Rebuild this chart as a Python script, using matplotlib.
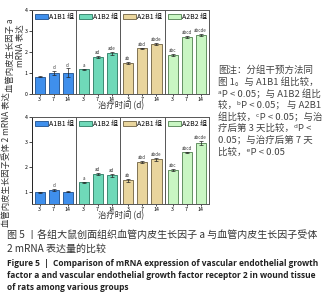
import matplotlib
matplotlib.use("Agg")
import matplotlib.pyplot as plt
import numpy as np
from matplotlib.patches import Patch

plt.rcParams['font.family'] = ['Noto Sans CJK SC', 'DejaVu Sans']

# data
groups = ["A1B1 组", "A1B2 组", "A2B1 组", "A2B2 组"]
days = ["3", "7", "14"]

vegfa = [[0.82, 1.00, 1.02], [1.17, 1.75, 1.93], [1.47, 2.17, 2.37], [1.85, 2.70, 2.80]]
vegfa_err = [[0.02, 0.08, 0.20], [0.03, 0.05, 0.07], [0.04, 0.03, 0.06], [0.04, 0.05, 0.06]]
vegfa_sig = [["", "d", "d"], ["a", "ad", "ade"], ["ab", "abd", "abde"], ["abc", "abcd", "abcde"]]

vegfr2 = [[0.97, 1.05, 1.00], [1.37, 1.70, 1.65], [1.45, 2.20, 2.30], [1.85, 2.58, 2.95]]
vegfr2_err = [[0.02, 0.04, 0.02], [0.03, 0.04, 0.06], [0.05, 0.04, 0.07], [0.04, 0.03, 0.08]]
vegfr2_sig = [["", "d", ""], ["a", "ad", "ad"], ["ab", "abd", "abde"], ["abc", "abcd", "abcde"]]

colors = ["#3f8fec", "#6fd9b9", "#e9d59d", "#c9f6c3"]
edges = ["#1d4f8c", "#2b7a62", "#6e6040", "#4f7f4f"]

W, H = 332, 300
fig = plt.figure(figsize=(W / 100, H / 100), dpi=100)


def px(x0, y0, x1, y1):
    return [x0 / W, 1 - y1 / H, (x1 - x0) / W, (y1 - y0) / H]


def panel(top, bottom, ymin, vals, errs, sigs):
    edges_x = [32, 76, 120, 165, 209]
    x = np.arange(3)
    for g in range(4):
        ax = fig.add_axes(px(edges_x[g], top, edges_x[g + 1], bottom))
        ax.bar(x, vals[g], width=0.72, color=colors[g], edgecolor=edges[g], linewidth=0.6)
        ax.errorbar(x, vals[g], yerr=errs[g], fmt="none", ecolor="#222222",
                    elinewidth=0.5, capsize=1.5, capthick=0.5)
        for i in range(3):
            if sigs[g][i]:
                ax.text(x[i], vals[g][i] + errs[g][i] + 0.04, sigs[g][i],
                        ha="center", va="bottom", fontsize=3.2, color="#333333")
        ax.set_xlim(-0.55, 2.6)
        ax.set_ylim(ymin, 4)
        ax.set_xticks(x)
        ax.set_xticklabels(days, fontsize=3.8)
        ax.tick_params(axis="x", length=1.5, width=0.5, pad=1)
        for s in ax.spines.values():
            s.set_color("#555555")
            s.set_linewidth(0.7)
        if g == 0:
            ax.set_yticks([1, 2, 3, 4] if ymin > 0 else [0, 1, 2, 3, 4])
            ax.tick_params(axis="y", labelsize=3.8, length=2, width=0.5, pad=1)
            ax.spines["left"].set_color("#222222")
        else:
            ax.set_yticks([])
        ax.legend(handles=[Patch(facecolor=colors[g], edgecolor=edges[g], linewidth=0.6)],
                  labels=[groups[g]], loc="upper left", fontsize=5,
                  frameon=False, handlelength=1.9, handleheight=0.75,
                  handletextpad=0.2, borderaxespad=0.2, borderpad=0.2)
    fig.text(121 / W, 1 - (bottom + 12) / H, "治疗时间 (d)", ha="center", va="center",
             fontsize=6, color="#333333")


panel(10, 94, 0, vegfa, vegfa_err, vegfa_sig)
panel(117, 204, 0.5, vegfr2, vegfr2_err, vegfr2_sig)

# y labels
fig.text(10 / W, 1 - 55 / H, "血管内皮生长因子 a", rotation=90, ha="center", va="center",
         fontsize=6, color="#333333")
fig.text(20 / W, 1 - 46 / H, "mRNA 表达", rotation=90, ha="center", va="center",
         fontsize=6, color="#333333")
fig.text(6 / W, 1 - 160 / H, "血管内皮生长因子受体 2 mRNA 表达", rotation=90, ha="center",
         va="center", fontsize=6, color="#333333")

# side note
note = ["图注：分组干预方法同",
        "图 1。与 A1B1 组比较，",
        "ᵃP < 0.05；与 A1B2 组比",
        "较，ᵇP < 0.05； 与 A2B1",
        "组比较，ᶜP < 0.05；与治",
        "疗后第 3 天比较，ᵈP <",
        "0.05；与治疗后第 7 天",
        "比较，ᵉP < 0.05"]
for i, line in enumerate(note):
    fig.text(218 / W, 1 - (70 + i * 11.7) / H, line, ha="left", va="center",
             fontsize=6.8, color="#444444")

# caption
cap_cn = ["图 5 丨各组大鼠创面组织血管内皮生长因子 a 与血管内皮生长因子受体",
          "2 mRNA 表达量的比较"]
cap_en = ["Figure 5  |  Comparison of mRNA expression of vascular endothelial growth",
          "factor a and vascular endothelial growth factor receptor 2 in wound tissue",
          "of rats among various groups"]
for i, line in enumerate(cap_cn):
    fig.text(7 / W, 1 - (235 + i * 14) / H, line, ha="left", va="center",
             fontsize=7.2, color="#333333")
for i, line in enumerate(cap_en):
    fig.text(7 / W, 1 - (263 + i * 12.5) / H, line, ha="left", va="center",
             fontsize=6.0, fontweight="bold", family=["Open Sans", "DejaVu Sans"],
             color="#222222")

fig.savefig("out.png", dpi=100)
